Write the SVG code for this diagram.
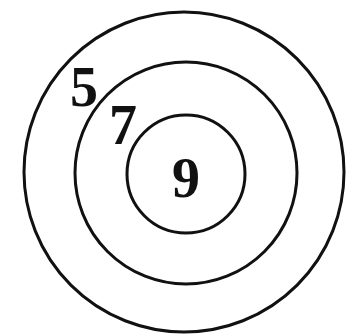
<svg xmlns="http://www.w3.org/2000/svg" width="352" height="336" viewBox="0 0 352 336">
<style>
.ring{fill:none;stroke:#111;stroke-width:3}
.lbl{font-family:"Liberation Serif","Times New Roman",serif;font-weight:bold;font-size:56px;fill:#111;text-anchor:middle}
</style>
<rect width="352" height="336" fill="#fff"/>
<g id="outer"><circle class="ring" cx="184" cy="172" r="160"/><text class="lbl" x="84" y="106">5</text></g>
<g id="middle"><circle class="ring" cx="186" cy="173" r="111"/><text class="lbl" x="123" y="144">7</text></g>
<g id="inner"><circle class="ring" cx="186" cy="174" r="59"/><text class="lbl" x="186" y="197">9</text></g>
<g id="connectors"/>
</svg>
